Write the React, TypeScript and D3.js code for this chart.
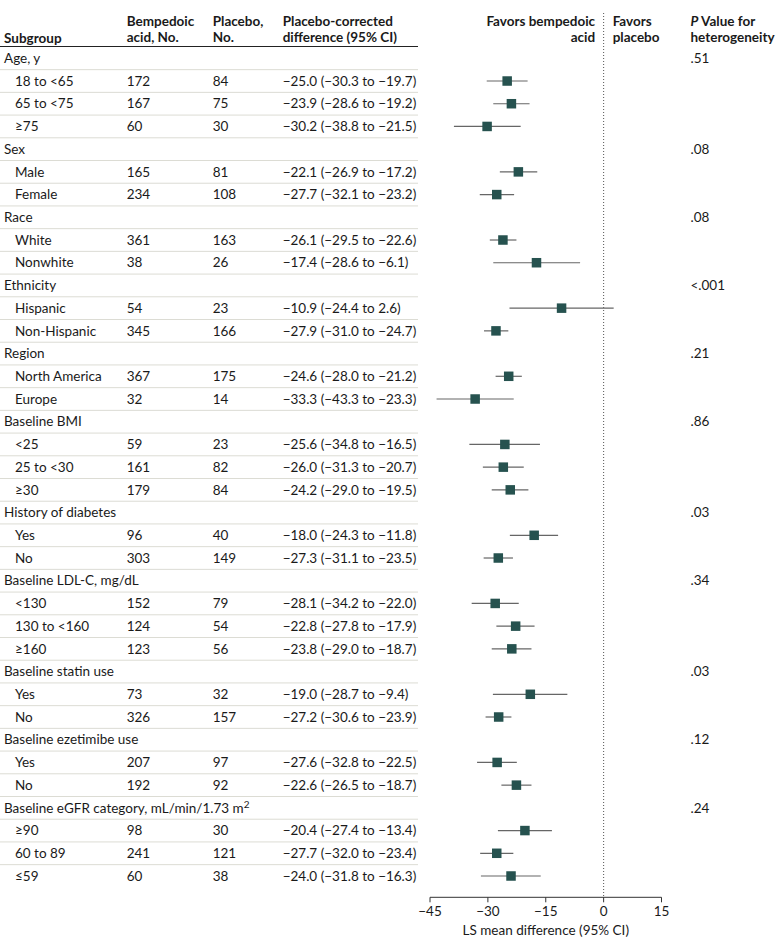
import React from "react";
import * as d3 from "d3";

const groupNames = [
  "Age, y", "Sex", "Race", "Ethnicity", "Region", "Baseline BMI",
  "History of diabetes", "Baseline LDL-C, mg/dL", "Baseline statin use",
  "Baseline ezetimibe use", "Baseline eGFR category, mL/min/1.73 m",
];
const groupPValues = [".51", ".08", ".08", "<.001", ".21", ".86", ".03", ".34", ".03", ".12", ".24"];
const groupSizes = [3, 2, 2, 2, 2, 3, 2, 3, 2, 2, 3];

const subgroupLabels = [
  "18 to <65", "65 to <75", "≥75",
  "Male", "Female",
  "White", "Nonwhite",
  "Hispanic", "Non-Hispanic",
  "North America", "Europe",
  "<25", "25 to <30", "≥30",
  "Yes", "No",
  "<130", "130 to <160", "≥160",
  "Yes", "No",
  "Yes", "No",
  "≥90", "60 to 89", "≤59",
];
const bempedoicN = [172, 167, 60, 165, 234, 361, 38, 54, 345, 367, 32, 59, 161, 179, 96, 303, 152, 124, 123, 73, 326, 207, 192, 98, 241, 60];
const placeboN = [84, 75, 30, 81, 108, 163, 26, 23, 166, 175, 14, 23, 82, 84, 40, 149, 79, 54, 56, 32, 157, 97, 92, 30, 121, 38];
const estimates = [-25.0, -23.9, -30.2, -22.1, -27.7, -26.1, -17.4, -10.9, -27.9, -24.6, -33.3, -25.6, -26.0, -24.2, -18.0, -27.3, -28.1, -22.8, -23.8, -19.0, -27.2, -27.6, -22.6, -20.4, -27.7, -24.0];
const ciLower = [-30.3, -28.6, -38.8, -26.9, -32.1, -29.5, -28.6, -24.4, -31.0, -28.0, -43.3, -34.8, -31.3, -29.0, -24.3, -31.1, -34.2, -27.8, -29.0, -28.7, -30.6, -32.8, -26.5, -27.4, -32.0, -31.8];
const ciUpper = [-19.7, -19.2, -21.5, -17.2, -23.2, -22.6, -6.1, 2.6, -24.7, -21.2, -23.3, -16.5, -20.7, -19.5, -11.8, -23.5, -22.0, -17.9, -18.7, -9.4, -23.9, -22.5, -18.7, -13.4, -23.4, -16.3];

const xTicks = [-45, -30, -15, 0, 15];

const W = 780;
const H = 949;
const FONT = "Lato, 'Noto Sans', sans-serif";
const FS = 13.5;
const TEXT = "#1a1a1a";
const MARK = "#26524f";

const fmt = (v: number) => {
  const s = Math.abs(v).toFixed(1);
  return v < 0 ? "\u2212" + s : s;
};
const fmtTick = (v: number) => (v < 0 ? "\u2212" + Math.abs(v) : String(v));

type Row =
  | { kind: "group"; label: string; p: string; last: boolean }
  | { kind: "item"; idx: number };

export default function App() {
  const rows: Row[] = [];
  let k = 0;
  groupNames.forEach((g, gi) => {
    rows.push({ kind: "group", label: g, p: groupPValues[gi], last: gi === groupNames.length - 1 });
    for (let j = 0; j < groupSizes[gi]; j++) rows.push({ kind: "item", idx: k++ });
  });

  const y = d3.scaleLinear().domain([0, rows.length - 1]).range([58.3, 876]);
  const step = y(1) - y(0);
  const x = d3.scaleLinear().domain([-45, 15]).range([430, 661.5]);
  const axisY = 897.3;

  const colGroup = 4;
  const colSub = 15;
  const colB = 126.7;
  const colP = 212.7;
  const colD = 282.7;
  const colPv = 690.5;
  const tableRight = 418;
  const sq = 9.5;

  return (
    <svg
      width={W}
      height={H}
      style={{ position: "absolute", left: 0, top: 0, background: "#fff" }}
      fontFamily={FONT}
      fontSize={FS}
      fill={TEXT}
    >
      <rect x={0} y={0} width={W} height={H} fill="#fff" />
      {/* Header */}
      <g fontWeight="bold">
        <text x={colGroup} y={42.5}>Subgroup</text>
        <text x={colB} y={26}>Bempedoic</text>
        <text x={colB} y={42}>acid, No.</text>
        <text x={colP} y={26}>Placebo,</text>
        <text x={colP} y={42}>No.</text>
        <text x={colD} y={26}>Placebo-corrected</text>
        <text x={colD} y={42}>difference (95% CI)</text>
        <text x={x(0) - 8.5} y={26} textAnchor="end">Favors bempedoic</text>
        <text x={x(0) - 8.5} y={42} textAnchor="end">acid</text>
        <text x={x(0) + 9} y={26}>Favors</text>
        <text x={x(0) + 9} y={42}>placebo</text>
        <text x={colPv} y={26}>
          <tspan fontStyle="italic">P</tspan> Value for
        </text>
        <text x={colPv} y={42}>heterogeneity</text>
      </g>
      <line x1={0} x2={tableRight} y1={46.5} y2={46.5} stroke="#222" strokeWidth={1.2} />

      {/* Row separators */}
      {rows.slice(0, -1).map((_, i) => (
        <line
          key={"sep" + i}
          x1={0}
          x2={tableRight}
          y1={y(i) + step / 2}
          y2={y(i) + step / 2}
          stroke="#dcdcd4"
          strokeWidth={1}
        />
      ))}

      {/* Zero reference line */}
      <line
        x1={x(0)}
        x2={x(0)}
        y1={13}
        y2={axisY}
        stroke="#555"
        strokeWidth={1}
        strokeDasharray="1,2"
      />

      {/* Rows */}
      {rows.map((r, i) => {
        const cy = y(i);
        const ty = cy + 4.7;
        if (r.kind === "group") {
          return (
            <g key={"r" + i}>
              {r.last ? (
                <text x={colGroup} y={ty}>
                  {r.label}
                  <tspan dy={-5} fontSize={10}>2</tspan>
                </text>
              ) : (
                <text x={colGroup} y={ty}>{r.label}</text>
              )}
              <text x={colPv} y={ty}>{r.p}</text>
            </g>
          );
        }
        const j = r.idx;
        return (
          <g key={"r" + i}>
            <text x={colSub} y={ty}>{subgroupLabels[j]}</text>
            <text x={colB} y={ty}>{bempedoicN[j]}</text>
            <text x={colP} y={ty}>{placeboN[j]}</text>
            <text x={colD} y={ty}>
              {`${fmt(estimates[j])} (${fmt(ciLower[j])} to ${fmt(ciUpper[j])})`}
            </text>
            <line
              x1={x(ciLower[j])}
              x2={x(ciUpper[j])}
              y1={cy}
              y2={cy}
              stroke="#666"
              strokeWidth={1.2}
            />
            <rect
              x={x(estimates[j]) - sq / 2}
              y={cy - sq / 2}
              width={sq}
              height={sq}
              fill={MARK}
            />
          </g>
        );
      })}

      {/* Axis */}
      <line x1={x(-45)} x2={x(15)} y1={axisY} y2={axisY} stroke="#333" strokeWidth={1} />
      {xTicks.map((t) => (
        <g key={"t" + t}>
          <line x1={x(t)} x2={x(t)} y1={axisY} y2={axisY + 5} stroke="#333" strokeWidth={1} />
          <text x={x(t)} y={915.5} textAnchor="middle">{fmtTick(t)}</text>
        </g>
      ))}
      <text x={(x(-45) + x(15)) / 2} y={935} textAnchor="middle">
        LS mean difference (95% CI)
      </text>
    </svg>
  );
}
